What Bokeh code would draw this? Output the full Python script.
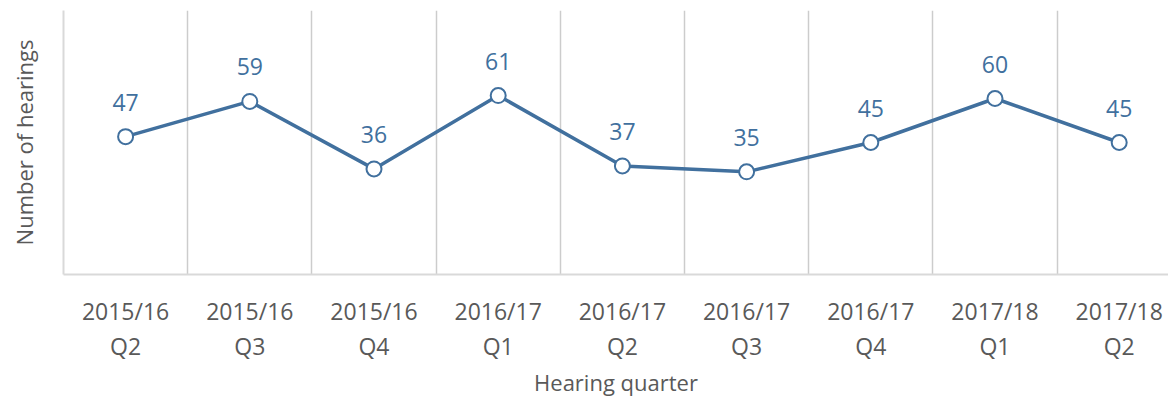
from bokeh.plotting import figure
from bokeh.models import Range1d, FixedTicker, LinearAxis, ColumnDataSource, LabelSet
from bokeh.core.properties import value
from bokeh.embed import file_html
from bokeh.resources import INLINE

# ---- data ----
periods = ["2015/16", "2015/16", "2015/16", "2016/17", "2016/17",
           "2016/17", "2016/17", "2017/18", "2017/18"]
quarters = ["Q2", "Q3", "Q4", "Q1", "Q2", "Q3", "Q4", "Q1", "Q2"]
hearings = [47, 59, 36, 61, 37, 35, 45, 60, 45]

x_title = "Hearing quarter"
y_title = "Number of hearings"

# ---- styles ----
FONT = "Open Sans"
BLUE = "#41709e"
TXT = "#595959"
GRID = "#cccccc"
AXIS = "#d9d9d9"

W, H = 1168, 400
LEFT = 63
n = len(hearings)
xs = list(range(n))
cat_px = 124.2
frame_w = W - LEFT

src = ColumnDataSource(dict(x=xs, y=hearings, lab=[str(v) for v in hearings]))

p = figure(width=W, height=H, output_backend="svg", toolbar_location=None,
           x_range=Range1d(-0.5, -0.5 + frame_w / cat_px), y_range=Range1d(0, 90),
           min_border_left=LEFT, min_border_right=0, min_border_top=10,
           min_border_bottom=126, x_axis_location=None, y_axis_location=None)
p.outline_line_color = None
p.background_fill_color = "white"
p.border_fill_color = "white"

# primary bottom axis (first line of category labels)
ax1 = LinearAxis(ticker=FixedTicker(ticks=xs),
                 major_label_overrides={i: periods[i] for i in xs})
ax1.axis_line_color = AXIS
ax1.axis_line_width = 2
ax1.major_tick_line_color = None
ax1.minor_tick_line_color = None
ax1.major_tick_out = 0
ax1.major_tick_in = 0
ax1.major_label_standoff = 20
ax1.major_label_text_font = FONT
ax1.major_label_text_font_size = "23px"
ax1.major_label_text_color = TXT
p.add_layout(ax1, "below")

# second line of category labels + axis title
ax2 = LinearAxis(ticker=FixedTicker(ticks=xs),
                 major_label_overrides={i: quarters[i] for i in xs},
                 axis_label=x_title)
ax2.axis_line_color = None
ax2.major_tick_line_color = None
ax2.minor_tick_line_color = None
ax2.major_tick_out = 0
ax2.major_tick_in = 0
ax2.major_label_standoff = 0
ax2.major_label_text_font = FONT
ax2.major_label_text_font_size = "23px"
ax2.major_label_text_color = TXT
ax2.axis_label_text_font = FONT
ax2.axis_label_text_font_size = "22px"
ax2.axis_label_text_font_style = "normal"
ax2.axis_label_text_color = TXT
ax2.axis_label_standoff = 2
p.add_layout(ax2, "below")

# left axis: line + title only
ay = LinearAxis(ticker=FixedTicker(ticks=[]), axis_label=y_title)
ay.axis_line_color = AXIS
ay.axis_line_width = 2
ay.major_tick_line_color = None
ay.minor_tick_line_color = None
ay.major_label_text_font_size = "0px"
ay.axis_label_text_font = FONT
ay.axis_label_text_font_size = "22px"
ay.axis_label_text_font_style = "normal"
ay.axis_label_text_color = TXT
ay.axis_label_standoff = 25
p.add_layout(ay, "left")

# grid: vertical separators between categories
p.xgrid.ticker = FixedTicker(ticks=[i + 0.5 for i in xs[:-1]])
p.xgrid.grid_line_color = GRID
p.xgrid.grid_line_width = 1.5
p.ygrid.grid_line_color = None

p.line("x", "y", source=src, line_color=BLUE, line_width=3.5)
p.scatter("x", "y", source=src, size=15, fill_color="white",
          line_color=BLUE, line_width=2)

labels = LabelSet(x="x", y="y", text="lab", source=src, y_offset=26,
                  text_align="center", text_baseline="alphabetic",
                  text_font=value(FONT), text_font_size=value("23px"),
                  text_color=value(BLUE))
p.add_layout(labels)

open("out.html", "w").write(file_html(p, INLINE))
